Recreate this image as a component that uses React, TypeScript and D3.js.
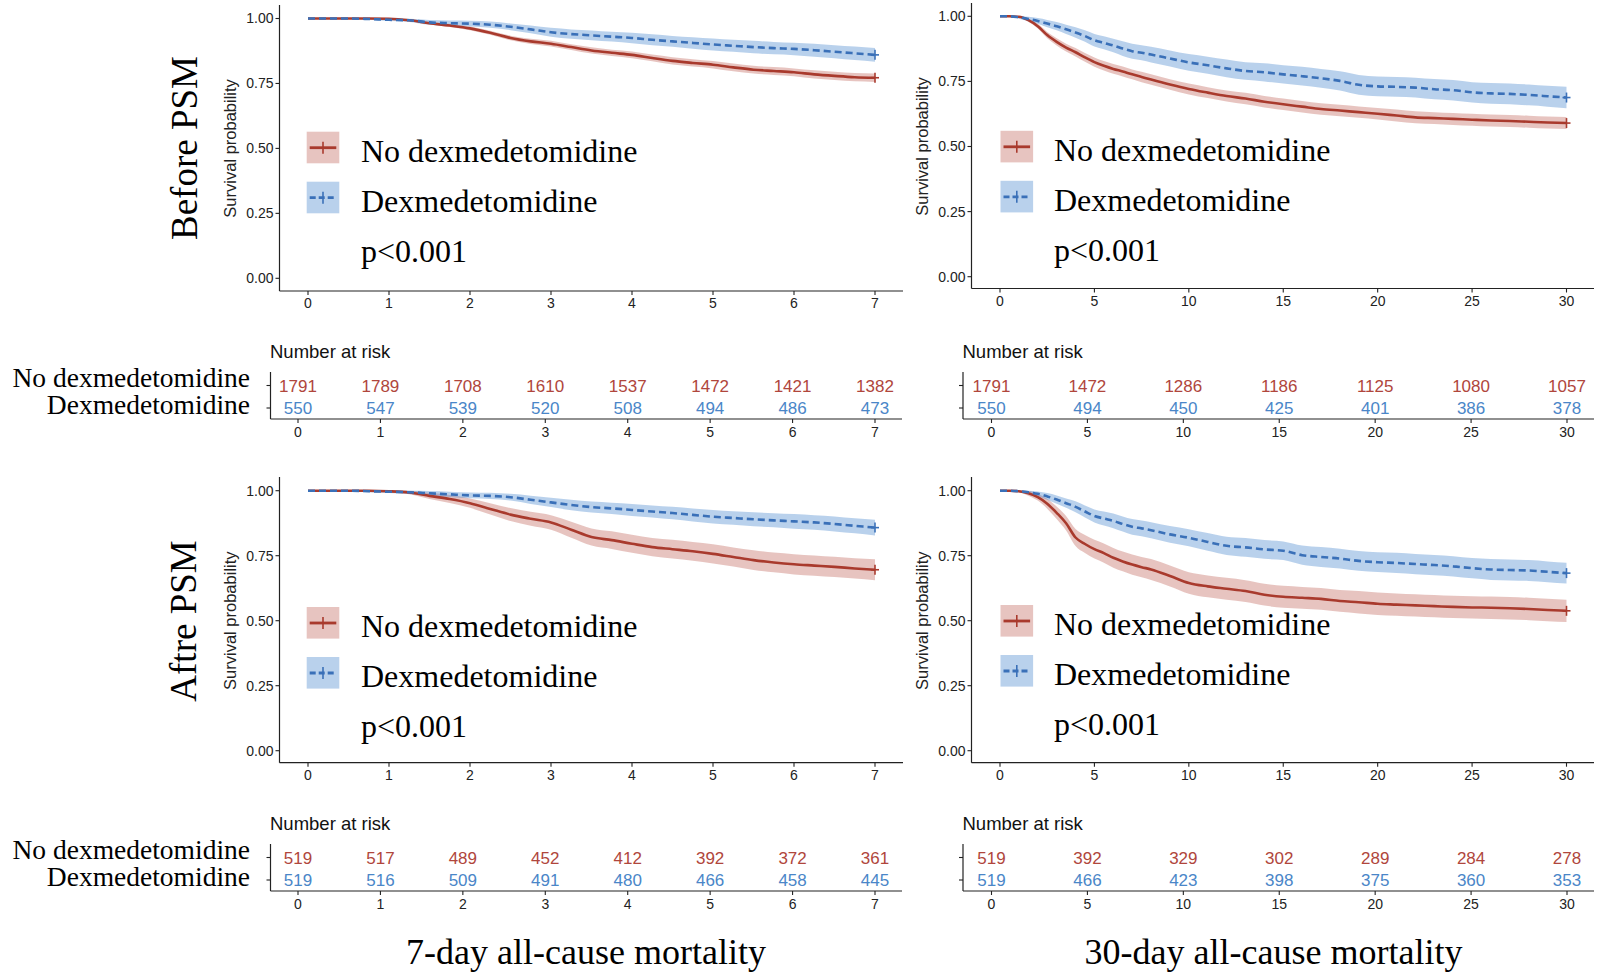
import React from 'react';
import * as d3 from 'd3';

// ---------- DATA ----------
const times7 = [0, 0.25, 0.5, 0.75, 1, 1.25, 1.5, 1.75, 2, 2.25, 2.5, 2.75, 3, 3.25, 3.5, 3.75, 4, 4.25, 4.5, 4.75, 5, 5.25, 5.5, 5.75, 6, 6.25, 6.5, 6.75, 7];
const times30 = [0, 0.5, 1, 1.5, 2, 2.5, 3, 3.5, 4, 4.5, 5, 5.5, 6, 6.5, 7, 7.5, 8, 9, 10, 11, 12, 13, 14, 15, 16, 17, 18, 19, 20, 21, 22, 23, 24, 25, 26, 27, 28, 29, 30];
const ticks7 = [0, 1, 2, 3, 4, 5, 6, 7];
const ticks30 = [0, 5, 10, 15, 20, 25, 30];
const yTicks = [0, 0.25, 0.5, 0.75, 1];
const groupNames = ['No dexmedetomidine', 'Dexmedetomidine'];
const pText = 'p<0.001';
const rowTitles = ['Before PSM', 'Aftre PSM'];
const colTitles = ['7-day all-cause mortality', '30-day all-cause mortality'];
const yAxisTitle = 'Survival probability';
const tableTitle = 'Number at risk';

// Before PSM, 7-day
const before7No = [1, 1, 1, 1, 0.999, 0.993, 0.982, 0.973, 0.962, 0.945, 0.925, 0.912, 0.903, 0.890, 0.877, 0.868, 0.860, 0.848, 0.837, 0.829, 0.822, 0.812, 0.803, 0.798, 0.793, 0.785, 0.779, 0.774, 0.772];
const before7NoCI = [0, 0, 0, 0, 0.001, 0.003, 0.005, 0.006, 0.007, 0.008, 0.009, 0.010, 0.011, 0.011, 0.012, 0.012, 0.013, 0.013, 0.014, 0.014, 0.014, 0.015, 0.015, 0.015, 0.015, 0.016, 0.016, 0.016, 0.016];
const before7Dex = [1, 1, 1, 0.998, 0.995, 0.993, 0.985, 0.982, 0.980, 0.976, 0.968, 0.958, 0.947, 0.940, 0.935, 0.930, 0.925, 0.918, 0.912, 0.906, 0.900, 0.895, 0.890, 0.886, 0.883, 0.878, 0.872, 0.866, 0.860];
const before7DexCI = [0, 0, 0, 0.003, 0.005, 0.006, 0.009, 0.010, 0.011, 0.012, 0.013, 0.015, 0.017, 0.018, 0.019, 0.019, 0.020, 0.021, 0.021, 0.022, 0.023, 0.023, 0.024, 0.024, 0.024, 0.025, 0.025, 0.026, 0.026];
const before7RiskNo = [1791, 1789, 1708, 1610, 1537, 1472, 1421, 1382];
const before7RiskDex = [550, 547, 539, 520, 508, 494, 486, 473];

// Before PSM, 30-day
const before30No = [1, 1, 0.998, 0.985, 0.962, 0.928, 0.902, 0.880, 0.862, 0.842, 0.824, 0.810, 0.798, 0.788, 0.777, 0.767, 0.757, 0.738, 0.721, 0.707, 0.694, 0.684, 0.672, 0.662, 0.653, 0.644, 0.638, 0.632, 0.626, 0.619, 0.612, 0.609, 0.606, 0.603, 0.600, 0.598, 0.595, 0.592, 0.590];
const before30NoCI = [0, 0, 0.002, 0.006, 0.009, 0.012, 0.014, 0.015, 0.016, 0.017, 0.018, 0.018, 0.019, 0.019, 0.019, 0.020, 0.020, 0.020, 0.021, 0.021, 0.021, 0.022, 0.022, 0.022, 0.022, 0.022, 0.022, 0.022, 0.022, 0.023, 0.023, 0.023, 0.023, 0.023, 0.023, 0.023, 0.023, 0.023, 0.023];
const before30Dex = [1, 1, 0.996, 0.990, 0.982, 0.972, 0.962, 0.950, 0.938, 0.924, 0.908, 0.898, 0.888, 0.876, 0.866, 0.860, 0.853, 0.838, 0.823, 0.812, 0.800, 0.790, 0.785, 0.777, 0.770, 0.762, 0.752, 0.737, 0.731, 0.729, 0.726, 0.720, 0.716, 0.708, 0.704, 0.702, 0.698, 0.693, 0.688];
const before30DexCI = [0, 0, 0.005, 0.008, 0.011, 0.014, 0.016, 0.018, 0.020, 0.022, 0.024, 0.025, 0.026, 0.028, 0.029, 0.029, 0.030, 0.031, 0.032, 0.033, 0.034, 0.034, 0.035, 0.035, 0.036, 0.036, 0.037, 0.038, 0.038, 0.038, 0.038, 0.039, 0.039, 0.039, 0.040, 0.040, 0.040, 0.040, 0.041];
const before30RiskNo = [1791, 1472, 1286, 1186, 1125, 1080, 1057];
const before30RiskDex = [550, 494, 450, 425, 401, 386, 378];

// After PSM, 7-day
const after7No = [1, 1, 1, 1, 0.998, 0.993, 0.980, 0.968, 0.952, 0.930, 0.908, 0.892, 0.878, 0.850, 0.822, 0.810, 0.796, 0.783, 0.775, 0.767, 0.757, 0.745, 0.733, 0.724, 0.717, 0.712, 0.707, 0.701, 0.696];
const after7NoCI = [0, 0, 0, 0, 0.004, 0.007, 0.012, 0.015, 0.018, 0.022, 0.025, 0.027, 0.028, 0.031, 0.033, 0.034, 0.035, 0.035, 0.036, 0.036, 0.037, 0.037, 0.038, 0.038, 0.039, 0.039, 0.039, 0.039, 0.040];
const after7Dex = [1, 1, 1, 0.998, 0.996, 0.994, 0.990, 0.986, 0.982, 0.980, 0.975, 0.965, 0.955, 0.945, 0.937, 0.932, 0.926, 0.920, 0.914, 0.907, 0.900, 0.895, 0.890, 0.886, 0.882, 0.878, 0.872, 0.865, 0.858];
const after7DexCI = [0, 0, 0, 0.004, 0.005, 0.007, 0.009, 0.010, 0.011, 0.012, 0.013, 0.016, 0.018, 0.020, 0.021, 0.022, 0.023, 0.023, 0.024, 0.025, 0.026, 0.026, 0.027, 0.027, 0.028, 0.028, 0.029, 0.029, 0.030];
const after7RiskNo = [519, 517, 489, 452, 412, 392, 372, 361];
const after7RiskDex = [519, 516, 509, 491, 480, 466, 458, 445];

// After PSM, 30-day
const after30No = [1, 1, 0.998, 0.990, 0.975, 0.950, 0.915, 0.875, 0.820, 0.795, 0.775, 0.760, 0.742, 0.728, 0.716, 0.706, 0.697, 0.672, 0.645, 0.632, 0.623, 0.614, 0.600, 0.592, 0.588, 0.584, 0.576, 0.571, 0.565, 0.562, 0.559, 0.556, 0.553, 0.551, 0.550, 0.548, 0.545, 0.541, 0.538];
const after30NoCI = [0, 0, 0.004, 0.009, 0.013, 0.019, 0.024, 0.028, 0.033, 0.035, 0.036, 0.037, 0.038, 0.038, 0.039, 0.039, 0.040, 0.040, 0.041, 0.042, 0.042, 0.042, 0.042, 0.042, 0.042, 0.042, 0.042, 0.043, 0.043, 0.043, 0.043, 0.043, 0.043, 0.043, 0.043, 0.043, 0.043, 0.043, 0.043];
const after30Dex = [1, 1, 0.998, 0.994, 0.988, 0.978, 0.966, 0.952, 0.938, 0.920, 0.903, 0.893, 0.884, 0.872, 0.861, 0.855, 0.848, 0.832, 0.819, 0.803, 0.788, 0.782, 0.774, 0.769, 0.752, 0.745, 0.739, 0.730, 0.725, 0.722, 0.718, 0.714, 0.709, 0.702, 0.697, 0.695, 0.693, 0.688, 0.683];
const after30DexCI = [0, 0, 0.004, 0.007, 0.009, 0.013, 0.016, 0.018, 0.021, 0.023, 0.025, 0.027, 0.028, 0.029, 0.030, 0.030, 0.031, 0.032, 0.033, 0.034, 0.035, 0.036, 0.036, 0.036, 0.037, 0.038, 0.038, 0.038, 0.038, 0.039, 0.039, 0.039, 0.039, 0.039, 0.040, 0.040, 0.040, 0.040, 0.040];
const after30RiskNo = [519, 392, 329, 302, 289, 284, 278];
const after30RiskDex = [519, 466, 423, 398, 375, 360, 353];

// ---------- STYLE ----------
const RED = '#A93A2D';
const BLUE = '#3A70B8';
const RED_BAND = 'rgba(176,58,46,0.30)';
const BLUE_BAND = 'rgba(70,135,205,0.38)';
const RED_TXT = '#B0463C';
const BLUE_TXT = '#4A86C8';
const AXIS = '#222';
const SANS = '"Liberation Sans", Arial, Helvetica, sans-serif';
const SERIF = '"Liberation Serif", "Times New Roman", Times, serif';

type PlotGeo = { axisX: number; x0: number; x1: number; xEnd: number; top: number; y1: number; y0: number; xAxisY: number; ylabX: number };
type LegGeo = { x: number; top: number; textX: number };
type TabGeo = { axisX: number; x0: number; x1: number; xEnd: number; top: number; axisY: number; rows: number[]; titleY: number };

type Panel = {
  times: number[];
  xTicks: number[];
  surv: number[][];
  ci: number[][];
  risk: number[][];
  plot: PlotGeo;
  legend: LegGeo;
  table: TabGeo;
  rowLabels: boolean;
};

const colors = [RED, BLUE];
const bands = [RED_BAND, BLUE_BAND];
const txtColors = [RED_TXT, BLUE_TXT];

function mkTable(dy: number, left: boolean): TabGeo {
  return left
    ? { axisX: 270.5, x0: 298, x1: 875, xEnd: 902, top: 372 + dy, axisY: 419 + dy, rows: [385.5 + dy, 408 + dy], titleY: 358 + dy }
    : { axisX: 963, x0: 991.5, x1: 1567, xEnd: 1594, top: 372 + dy, axisY: 419 + dy, rows: [385.5 + dy, 408 + dy], titleY: 358 + dy };
}

const panels: Panel[] = [
  {
    times: times7, xTicks: ticks7,
    surv: [before7No, before7Dex], ci: [before7NoCI, before7DexCI], risk: [before7RiskNo, before7RiskDex],
    plot: { axisX: 279.5, x0: 308, x1: 875, xEnd: 903, top: 5, y1: 18.5, y0: 278.3, xAxisY: 291, ylabX: 236 },
    legend: { x: 306.7, top: 131.7, textX: 361 },
    table: mkTable(0, true), rowLabels: true,
  },
  {
    times: times30, xTicks: ticks30,
    surv: [before30No, before30Dex], ci: [before30NoCI, before30DexCI], risk: [before30RiskNo, before30RiskDex],
    plot: { axisX: 971.5, x0: 1000, x1: 1566.5, xEnd: 1594, top: 3, y1: 16.3, y0: 276.7, xAxisY: 288.5, ylabX: 928 },
    legend: { x: 1000.5, top: 130.8, textX: 1054 },
    table: mkTable(0, false), rowLabels: false,
  },
  {
    times: times7, xTicks: ticks7,
    surv: [after7No, after7Dex], ci: [after7NoCI, after7DexCI], risk: [after7RiskNo, after7RiskDex],
    plot: { axisX: 279.5, x0: 308, x1: 875, xEnd: 903, top: 477, y1: 490.7, y0: 750.7, xAxisY: 762.7, ylabX: 236 },
    legend: { x: 306.7, top: 607, textX: 361 },
    table: mkTable(472, true), rowLabels: true,
  },
  {
    times: times30, xTicks: ticks30,
    surv: [after30No, after30Dex], ci: [after30NoCI, after30DexCI], risk: [after30RiskNo, after30RiskDex],
    plot: { axisX: 971.5, x0: 1000, x1: 1566.5, xEnd: 1594, top: 477, y1: 490.7, y0: 750.7, xAxisY: 762.7, ylabX: 928 },
    legend: { x: 1000.5, top: 605, textX: 1054 },
    table: mkTable(472, false), rowLabels: false,
  },
];

const fmt2 = d3.format('.2f');

function KMPanel({ p }: { p: Panel }) {
  const g = p.plot;
  const xMax = p.xTicks[p.xTicks.length - 1];
  const x = d3.scaleLinear().domain([0, xMax]).range([g.x0, g.x1]);
  const y = d3.scaleLinear().domain([0, 1]).range([g.y0, g.y1]);

  type Pt = { t: number; s: number; h: number };
  const series: Pt[][] = p.surv.map((s, k) => p.times.map((t, i) => ({ t, s: s[i], h: p.ci[k][i] })));
  const area = d3.area<Pt>().curve(d3.curveMonotoneX).x(d => x(d.t)).y0(d => y(Math.max(0, d.s - d.h))).y1(d => y(Math.min(1, d.s + d.h)));
  const line = d3.line<Pt>().curve(d3.curveMonotoneX).x(d => x(d.t)).y(d => y(d.s));

  const tb = p.table;
  const xt = d3.scaleLinear().domain([0, xMax]).range([tb.x0, tb.x1]);
  const L = p.legend;

  return (
    <g>
      {series.map((d, k) => (
        <path key={'b' + k} d={area(d) || ''} fill={bands[k]} stroke="none" />
      ))}
      {series.map((d, k) => (
        <path key={'l' + k} d={line(d) || ''} fill="none" stroke={colors[k]} strokeWidth={2.6}
          strokeDasharray={k === 1 ? '7,4' : undefined} />
      ))}
      {series.map((d, k) => {
        const last = d[d.length - 1];
        const cx = x(last.t), cy = y(last.s);
        return (
          <g key={'c' + k} stroke={colors[k]} strokeWidth={1.6}>
            <line x1={cx} x2={cx} y1={cy - 5} y2={cy + 5} />
            <line x1={cx - 4} x2={cx + 4} y1={cy} y2={cy} />
          </g>
        );
      })}

      <line x1={g.axisX} x2={g.axisX} y1={g.top} y2={g.xAxisY} stroke={AXIS} strokeWidth={1.2} />
      <line x1={g.axisX} x2={g.xEnd} y1={g.xAxisY} y2={g.xAxisY} stroke={AXIS} strokeWidth={1.2} />
      {yTicks.map(v => (
        <g key={'yt' + v}>
          <line x1={g.axisX - 4} x2={g.axisX} y1={y(v)} y2={y(v)} stroke={AXIS} strokeWidth={1.1} />
          <text x={g.axisX - 6} y={y(v)} dy="0.35em" textAnchor="end" fontFamily={SANS} fontSize={14} fill="#222">{fmt2(v)}</text>
        </g>
      ))}
      {p.xTicks.map(v => (
        <g key={'xt' + v}>
          <line x1={x(v)} x2={x(v)} y1={g.xAxisY} y2={g.xAxisY + 4} stroke={AXIS} strokeWidth={1.1} />
          <text x={x(v)} y={g.xAxisY + 12.5} dy="0.35em" textAnchor="middle" fontFamily={SANS} fontSize={14} fill="#222">{v}</text>
        </g>
      ))}
      <text transform={`translate(${g.ylabX},${(g.y0 + g.y1) / 2}) rotate(-90)`} textAnchor="middle" fontFamily={SANS} fontSize={16.5} fill="#222">{yAxisTitle}</text>

      {groupNames.map((name, k) => {
        const top = L.top + k * 50;
        const cy = top + 16;
        return (
          <g key={'lg' + k}>
            <rect x={L.x} y={top} width={32.6} height={31.6} fill={bands[k]} />
            <line x1={L.x + 3} x2={L.x + 29.6} y1={cy} y2={cy} stroke={colors[k]} strokeWidth={2.8} strokeDasharray={k === 1 ? '6,3' : undefined} />
            <line x1={L.x + 16.3} x2={L.x + 16.3} y1={cy - 6} y2={cy + 6} stroke={colors[k]} strokeWidth={1.6} />
            <text x={L.textX} y={top + 30} fontFamily={SERIF} fontSize={32} fill="#000">{name}</text>
          </g>
        );
      })}
      <text x={L.textX} y={L.top + 130} fontFamily={SERIF} fontSize={32} fill="#000">{pText}</text>

      <text x={tb.axisX - 0.5} y={tb.titleY} fontFamily={SANS} fontSize={18.5} fill="#111">{tableTitle}</text>
      <line x1={tb.axisX} x2={tb.axisX} y1={tb.top} y2={tb.axisY} stroke={AXIS} strokeWidth={1.2} />
      <line x1={tb.axisX} x2={tb.xEnd} y1={tb.axisY} y2={tb.axisY} stroke={AXIS} strokeWidth={1.2} />
      {tb.rows.map((ry, k) => (
        <g key={'tr' + k}>
          <line x1={tb.axisX - 4} x2={tb.axisX} y1={ry} y2={ry} stroke={AXIS} strokeWidth={1.1} />
          {p.risk[k].map((n, i) => (
            <text key={i} x={xt(p.xTicks[i])} y={ry} dy="0.36em" textAnchor="middle" fontFamily={SANS} fontSize={17} fill={txtColors[k]}>{n}</text>
          ))}
          {p.rowLabels && (
            <text x={250} y={ry + 1 + k * 5} textAnchor="end" fontFamily={SERIF} fontSize={27.5} fill="#000">{groupNames[k]}</text>
          )}
        </g>
      ))}
      {p.xTicks.map(v => (
        <g key={'tt' + v}>
          <line x1={xt(v)} x2={xt(v)} y1={tb.axisY} y2={tb.axisY + 4} stroke={AXIS} strokeWidth={1.1} />
          <text x={xt(v)} y={tb.axisY + 13} dy="0.35em" textAnchor="middle" fontFamily={SANS} fontSize={14} fill="#222">{v}</text>
        </g>
      ))}
    </g>
  );
}

export default function App() {
  return (
    <svg width={1600} height={977} viewBox="0 0 1600 977"
      style={{ position: 'absolute', left: 0, top: 0, background: '#fff', display: 'block' }}>
      <rect x={0} y={0} width={1600} height={977} fill="#fff" />
      {panels.map((p, i) => <KMPanel key={i} p={p} />)}
      <text transform="translate(197,148) rotate(-90)" textAnchor="middle" fontFamily={SERIF} fontSize={37} fill="#000">{rowTitles[0]}</text>
      <text transform="translate(196,621) rotate(-90)" textAnchor="middle" fontFamily={SERIF} fontSize={37} fill="#000">{rowTitles[1]}</text>
      <text x={586} y={964} textAnchor="middle" fontFamily={SERIF} fontSize={36} fill="#000">{colTitles[0]}</text>
      <text x={1273.5} y={964} textAnchor="middle" fontFamily={SERIF} fontSize={36} fill="#000">{colTitles[1]}</text>
    </svg>
  );
}
